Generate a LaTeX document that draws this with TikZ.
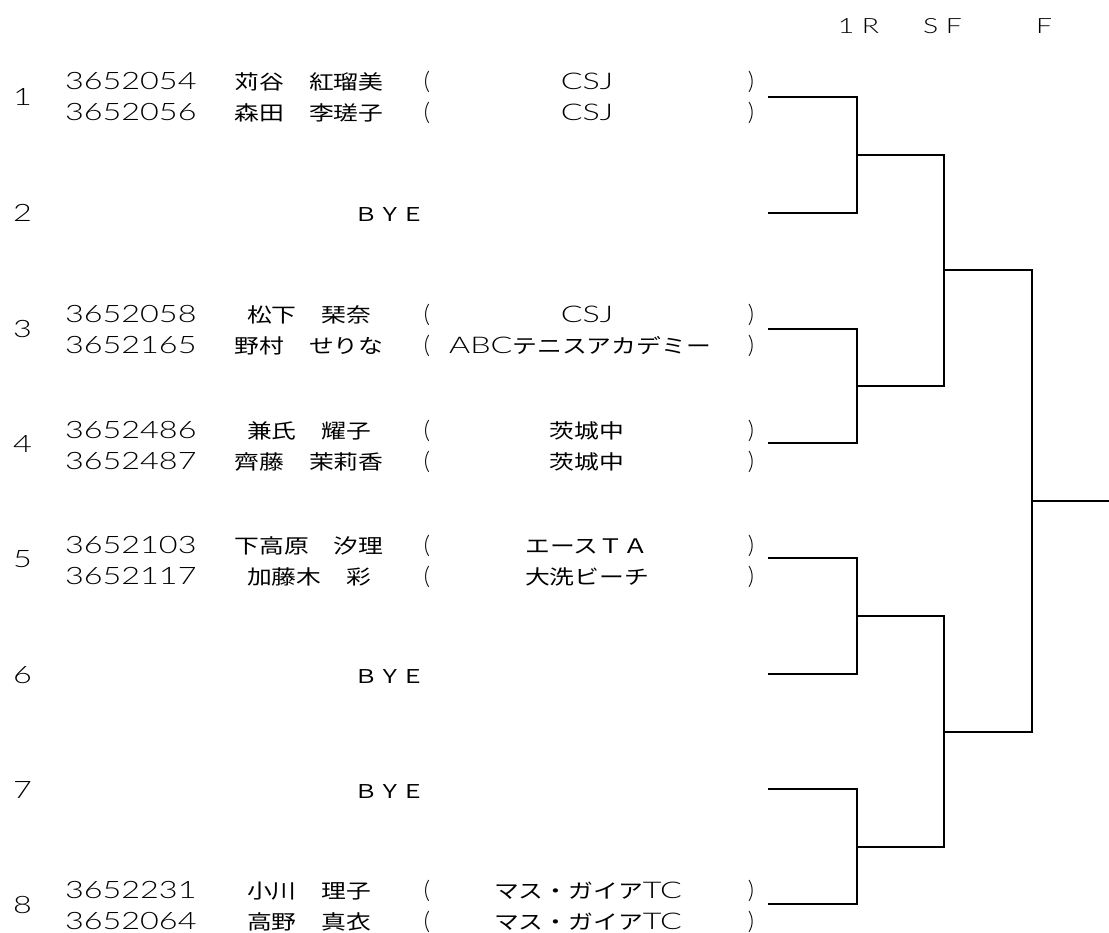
\documentclass[tikz,border=0pt]{standalone}
\usepackage{fontspec}
\newfontfamily\jpf[FakeStretch=1.24]{Noto Sans CJK JP}
\newfontfamily\latf[FakeStretch=1.35]{Lato Light}
\newfontfamily\latlf[FakeStretch=1.4]{Lato Light}
\newfontfamily\latnf{Lato Light}
\newcommand\lt[1]{{\latlf\fontsize{23}{23}\selectfont #1}}
\tikzset{
  txt/.style={inner sep=0pt, outer sep=0pt},
  numtxt/.style={txt, anchor=base west, font=\latf\fontsize{24}{24}\selectfont},
  idtxt/.style={txt, anchor=base west, font=\latf\fontsize{24}{24}\selectfont},
  nametxt/.style={txt, anchor=base, font=\jpf\fontsize{20}{20}\selectfont},
  teamtxt/.style={txt, anchor=base, font=\jpf\fontsize{20}{20}\selectfont},
  partxt/.style={txt, anchor=base, font=\latnf\fontsize{24}{24}\selectfont},
  byetxt/.style={txt, anchor=base, font=\jpf\fontsize{19}{19}\selectfont},
  headtxt/.style={txt, anchor=base, font=\latf\fontsize{21}{21}\selectfont},
  br/.style={line width=2pt, line join=miter, line cap=butt}
}
\newcommand\prow[6]{%
  \node[idtxt] (id#1) at (65,#2) {#3};
  \node[nametxt] (nm#1) at (309,#2) {#4};
  \node[partxt] (pl#1) at (427,#2) {(};
  \node[teamtxt] (tm#1) at (#6,#2) {#5};
  \node[partxt] (pr#1) at (751,#2) {)};
}
\begin{document}
\begin{tikzpicture}[x=1pt,y=-1pt]
\useasboundingbox (0,0) rectangle (1109,933);
% header
\node[headtxt] (h1) at (858.5,34) {1 R};
\node[headtxt] (h2) at (942.5,34) {S F};
\node[headtxt] (h3) at (1044,34) {F};
% entry numbers
\node[numtxt] (n1) at (13,106) {1};
\node[numtxt] (n2) at (13,222) {2};
\node[numtxt] (n3) at (13,338) {3};
\node[numtxt] (n4) at (13,452) {4};
\node[numtxt] (n5) at (13,567) {5};
\node[numtxt] (n6) at (13,683) {6};
\node[numtxt] (n7) at (13,798) {7};
\node[numtxt] (n8) at (13,913) {8};
% players
\prow{1a}{90}{3652054}{苅谷　紅瑠美}{\lt{CSJ}}{587}
\prow{1b}{121}{3652056}{森田　李瑳子}{\lt{CSJ}}{587}
\node[byetxt] (bye2) at (390,222) {ＢＹＥ};
\prow{3a}{323}{3652058}{松下　琹奈}{\lt{CSJ}}{587}
\prow{3b}{354}{3652165}{野村　せりな}{\lt{ABC}テニスアカデミー}{580}
\prow{4a}{438}{3652486}{兼氏　耀子}{茨城中}{587}
\prow{4b}{469}{3652487}{齊藤　茉莉香}{茨城中}{587}
\prow{5a}{553}{3652103}{下高原　汐理}{エースＴＡ}{587}
\prow{5b}{584}{3652117}{加藤木　彩}{大洗ビーチ}{587}
\node[byetxt] (bye6) at (390,683) {ＢＹＥ};
\node[byetxt] (bye7) at (390,798) {ＢＹＥ};
\prow{8a}{898}{3652231}{小川　理子}{マス・ガイア\lt{TC}}{588}
\prow{8b}{929}{3652064}{高野　真衣}{マス・ガイア\lt{TC}}{588}
% bracket coordinates
\coordinate (e1) at (768,97);
\coordinate (e2) at (768,213);
\coordinate (e3) at (768,329);
\coordinate (e4) at (768,443);
\coordinate (e5) at (768,558);
\coordinate (e6) at (768,674);
\coordinate (e7) at (768,789);
\coordinate (e8) at (768,904);
\coordinate (q1) at (857,155);
\coordinate (q2) at (857,386);
\coordinate (q3) at (857,616);
\coordinate (q4) at (857,847);
\coordinate (s1) at (944,270.5);
\coordinate (s2) at (944,731.5);
\coordinate (fin) at (1032,501);
\coordinate (fend) at (1109,501);
\draw[br] (e1) -| (q1) |- (e2);
\draw[br] (e3) -| (q2) |- (e4);
\draw[br] (e5) -| (q3) |- (e6);
\draw[br] (e7) -| (q4) |- (e8);
\draw[br] (q1) -| (s1) |- (q2);
\draw[br] (q3) -| (s2) |- (q4);
\draw[br] (s1) -| (fin) |- (s2);
\draw[br] (fin) -- (fend);
\end{tikzpicture}
\end{document}
